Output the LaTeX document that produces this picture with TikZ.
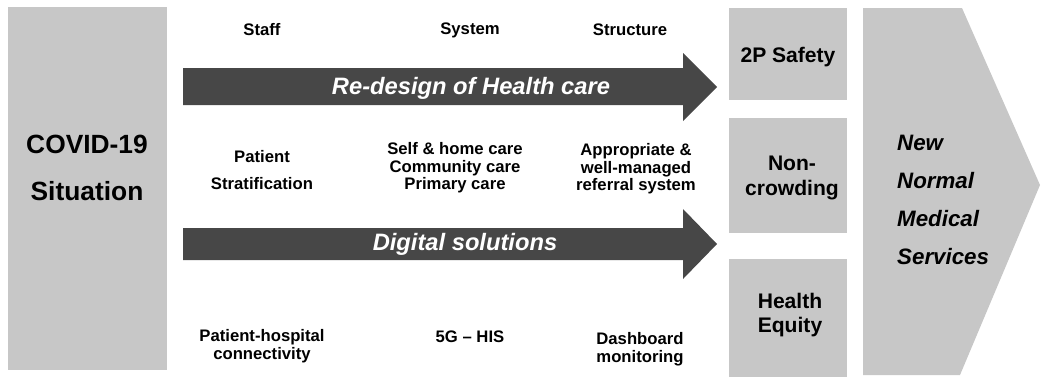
\documentclass[tikz,border=0pt]{standalone}
\usepackage{fontspec}
\setmainfont{Liberation Sans}
\begin{document}
\begin{tikzpicture}[x=0.02cm,y=-0.02cm,
    lbl/.style={font=\bfseries\fontsize{9.5}{10}\selectfont, align=center},
    panel/.style={fill=black!22},
    panellbl/.style={font=\bfseries\fontsize{12}{14}\selectfont, align=center},
    band/.style={fill=black!72},
    bandlbl/.style={text=white, font=\bfseries\itshape\fontsize{13.5}{14}\selectfont}]
    \useasboundingbox (0,0) rectangle (1041,386);
    \fill[panel] (8,7) rectangle (167,370);
    \node[align=center, font=\bfseries\fontsize{15}{26.6}\selectfont] (covid) at (87,168) {COVID-19\\Situation};
    \node[lbl] (staff) at (262,30) {Staff};
    \node[lbl] (system) at (470,30) {System};
    \node[lbl] (structure) at (630,30) {Structure};
    \fill[band] (183,68) -- (683,68) -- (683,53) -- (717,87) -- (683,121) -- (683,105) -- (183,105) -- cycle;
    \node[bandlbl] (redesign) at (471,88) {Re-design of Health care};
    \node[lbl, font=\bfseries\fontsize{9.5}{15.3}\selectfont] (strat) at (262,170) {Patient\\Stratification};
    \node[lbl] (care) at (455,168) {Self \& home care\\Community care\\Primary care};
    \node[lbl] (referral) at (636,169) {Appropriate \&\\well-managed\\referral system};
    \fill[band] (183,228) -- (683,228) -- (683,209) -- (717,244) -- (683,279) -- (683,260) -- (183,260) -- cycle;
    \node[bandlbl] (digital) at (465,244) {Digital solutions};
    \node[lbl] (connect) at (262,346) {Patient-hospital\\connectivity};
    \node[lbl] (his) at (470,337) {5G -- HIS};
    \node[lbl] (dash) at (640,349) {Dashboard\\monitoring};
    \fill[panel] (729,8) rectangle (847,100);
    \node[panellbl] (safety) at (788,57) {2P Safety};
    \fill[panel] (729,118) rectangle (847,233);
    \node[panellbl] (crowd) at (792,178) {Non-\\crowding};
    \fill[panel] (729,259) rectangle (847,377);
    \node[panellbl] (equity) at (790,315) {Health\\Equity};
    \fill[panel] (863,8) -- (962,8) -- (1040,185) -- (960,375) -- (863,375) -- cycle;
    \node[anchor=west, align=left, font=\bfseries\itshape\fontsize{12.7}{21.6}\selectfont] (newnormal) at (891,200) {New\\Normal\\Medical\\Services};
\end{tikzpicture}
\end{document}
